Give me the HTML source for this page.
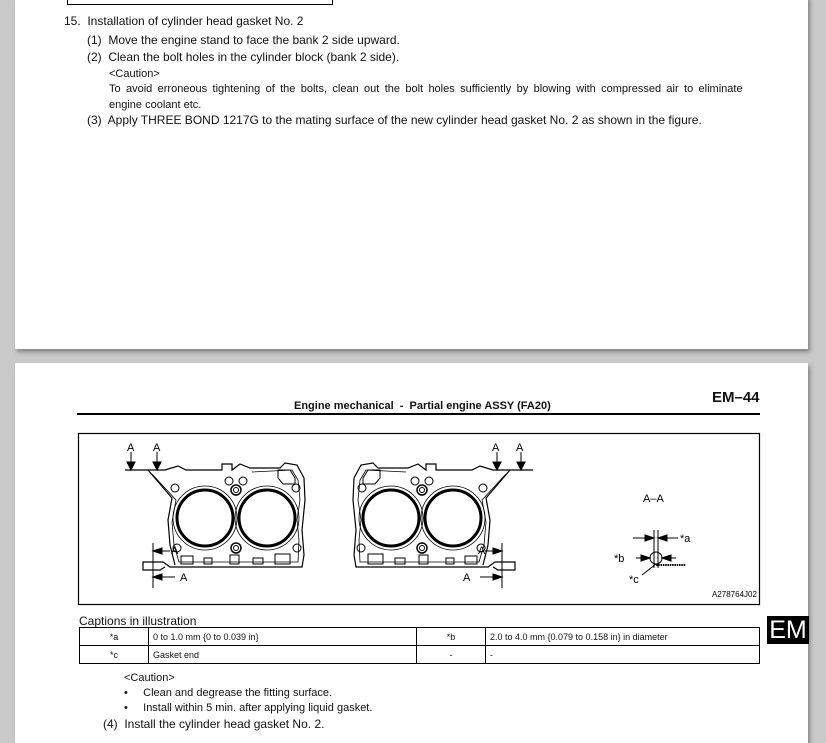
<!DOCTYPE html>
<html><head><meta charset="utf-8"><style>
html,body{margin:0;padding:0;}
body{width:826px;height:738px;background:#c9c9c9;position:relative;overflow:hidden;font-family:"Liberation Sans",sans-serif;color:#111;}
.page{position:absolute;background:#fff;left:15px;width:793px;box-shadow:2px 3px 4px rgba(0,0,0,0.35);}
.t{position:absolute;font-size:12px;white-space:nowrap;line-height:14px;}
table{position:absolute;border-collapse:collapse;left:79px;top:627px;width:681px;font-size:9px;}
td{border:1px solid #000;height:17px;padding:0 4px;}
</style></head><body>
<div class="page" style="top:-5px;height:354px;"></div>
<div class="page" style="top:363px;height:380px;"></div>
<div style="position:absolute;left:67px;top:-2px;width:264px;height:6px;border:1.5px solid #000;border-top:none;"></div>

<div class="t" style="left:64px;top:14px;">15.&nbsp; Installation of cylinder head gasket No. 2</div>
<div class="t" style="left:87px;top:33px;">(1)&nbsp; Move the engine stand to face the bank 2 side upward.</div>
<div class="t" style="left:87px;top:50px;">(2)&nbsp; Clean the bolt holes in the cylinder block (bank 2 side).</div>
<div class="t" style="left:109px;top:67px;font-size:11px;">&lt;Caution&gt;</div>
<div class="t" style="left:109px;top:82px;font-size:11px;word-spacing:2.3px;">To avoid erroneous tightening of the bolts, clean out the bolt holes sufficiently by blowing with compressed air to eliminate</div>
<div class="t" style="left:109px;top:98px;font-size:11px;">engine coolant etc.</div>
<div class="t" style="left:87px;top:113px;">(3)&nbsp; Apply THREE BOND 1217G to the mating surface of the new cylinder head gasket No. 2 as shown in the figure.</div>

<div class="t" style="left:294px;top:399px;font-size:11px;font-weight:bold;">Engine mechanical&nbsp; -&nbsp; Partial engine ASSY (FA20)</div>
<div class="t" style="left:712px;top:391px;font-size:15px;font-weight:bold;">EM–44</div>
<div style="position:absolute;left:77px;top:413px;width:683px;height:2px;background:#000;"></div>

<svg style="position:absolute;left:0;top:0;" width="826" height="738">
<rect x="78.5" y="433.5" width="681" height="171" fill="none" stroke="#000" stroke-width="1.2"/>
<defs>
<g id="gk" fill="none" stroke="#000">
<path d="M125 470 H165 L178 466 L186 470 L222 470 L222 464 L232 464 L232 470 L240 464 L250 468 L280 468 L285 463 L297 465 L304 478 L305 500 L302 530 L304 555 L302 567 L170 567 L163 562 L143 562 L143 570 L160 570 L165 567" stroke-width="1.2"/>
<path d="M148 470 L172 498 L168 520 L170 545 L175 565" stroke-width="1.2"/>
<path d="M152 474 L176 500 L172 522 L174 545 L179 562 L298 562 L299 540 L297 520 L300 500 L298 480 L292 470 L252 472" stroke-width="0.8"/>
<circle cx="205" cy="518" r="28" stroke-width="3"/>
<circle cx="205" cy="518" r="32" stroke-width="0.8"/>
<circle cx="267" cy="518" r="28" stroke-width="3"/>
<circle cx="267" cy="518" r="32" stroke-width="0.8"/>
<circle cx="236" cy="490" r="5" stroke-width="1.5"/><circle cx="236" cy="490" r="2.5"/>
<circle cx="236" cy="548" r="5" stroke-width="1.5"/><circle cx="236" cy="548" r="2.5"/>
<circle cx="229" cy="481" r="4"/><circle cx="243" cy="481" r="4"/>
<circle cx="175" cy="488" r="4"/><circle cx="296" cy="488" r="4"/>
<circle cx="177" cy="548" r="4"/><circle cx="297" cy="548" r="4"/>
<path d="M278 470 h12 l5 8 v6 h-12 l-5 -6z"/>
<path d="M181 556 h12 v8 h-12z M204 558 h8 v6 h-8z M230 555 h9 v9 h-9z M253 558 h10 v6 h-10z M275 554 h15 v10 h-15z"/>
</g>
</defs>
<use href="#gk"/>
<use href="#gk" transform="translate(658,0) scale(-1,1)"/>
<g stroke="#000" fill="#000" stroke-width="1">
<line x1="131" y1="452" x2="131" y2="470"/><path d="M127 462 L131 470 L135 462z"/>
<line x1="157" y1="452" x2="157" y2="470"/><path d="M153 462 L157 470 L161 462z"/>
<line x1="497" y1="452" x2="497" y2="470"/><path d="M493 462 L497 470 L501 462z"/>
<line x1="521" y1="452" x2="521" y2="470"/><path d="M517 462 L521 470 L525 462z"/>
<line x1="153" y1="543" x2="153" y2="588"/>
<line x1="153" y1="551" x2="170" y2="551"/><path d="M153 551 L162 548 L162 554z"/>
<line x1="153" y1="577" x2="175" y2="577"/><path d="M153 577 L162 574 L162 580z"/>
<line x1="502" y1="543" x2="502" y2="588"/>
<line x1="485" y1="551" x2="502" y2="551"/><path d="M502 551 L493 548 L493 554z"/>
<line x1="480" y1="577" x2="502" y2="577"/><path d="M502 577 L493 574 L493 580z"/>
<line x1="654" y1="530" x2="654" y2="568"/><line x1="658" y1="530" x2="658" y2="568"/>
<line x1="633" y1="538" x2="654" y2="538"/><path d="M654 538 L645 535 L645 541z"/>
<line x1="658" y1="538" x2="678" y2="538"/><path d="M658 538 L667 535 L667 541z"/>
<line x1="636" y1="558" x2="650" y2="558"/><path d="M650 558 L641 555 L641 561z"/>
<line x1="662" y1="558" x2="676" y2="558"/><path d="M662 558 L671 555 L671 561z"/>
<circle cx="656" cy="558" r="6" fill="none"/>
<line x1="656" y1="565" x2="686" y2="565" stroke-width="2" stroke-dasharray="1.5 0.8"/>
<line x1="656" y1="564" x2="642" y2="575"/>
</g>
<g font-family="Liberation Sans,sans-serif" font-size="11" fill="#000">
<text x="127" y="451">A</text><text x="153" y="451">A</text>
<text x="492" y="451">A</text><text x="516" y="451">A</text>
<text x="171" y="554">A</text><text x="180" y="581">A</text>
<text x="478" y="554">A</text><text x="463" y="581">A</text>
<text x="643" y="502">A–A</text>
<text x="680" y="542">*a</text><text x="614" y="562">*b</text><text x="629" y="583">*c</text>
<text x="712" y="597" font-size="8">A278764J02</text>
</g>
</svg>

<div class="t" style="left:79px;top:614px;font-size:12px;">Captions in illustration</div>
<table>
<tr><td style="width:60px;text-align:center;">*a</td><td style="width:259px;">0 to 1.0 mm {0 to 0.039 in}</td><td style="width:60px;text-align:center;">*b</td><td>2.0 to 4.0 mm {0.079 to 0.158 in} in diameter</td></tr>
<tr><td style="text-align:center;">*c</td><td>Gasket end</td><td style="text-align:center;">-</td><td>-</td></tr>
</table>
<div style="position:absolute;left:767px;top:616px;width:42px;height:28px;background:#000;color:#fff;font-size:25px;line-height:28px;text-align:center;">EM</div>

<div class="t" style="left:124px;top:671px;font-size:11px;">&lt;Caution&gt;</div>
<div class="t" style="left:124px;top:686px;font-size:11px;">•&nbsp;&nbsp;&nbsp;&nbsp; Clean and degrease the fitting surface.</div>
<div class="t" style="left:124px;top:701px;font-size:11px;">•&nbsp;&nbsp;&nbsp;&nbsp; Install within 5 min. after applying liquid gasket.</div>
<div class="t" style="left:103px;top:717px;font-size:12px;">(4)&nbsp; Install the cylinder head gasket No. 2.</div>
</body></html>
